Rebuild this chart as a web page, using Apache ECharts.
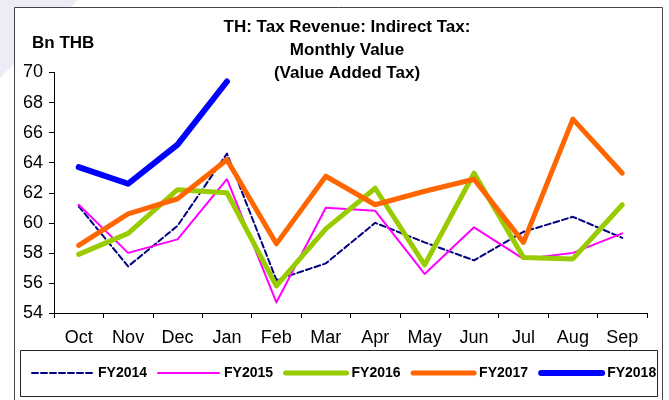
<!DOCTYPE html>
<html>
<head>
<meta charset="utf-8">
<script src="https://cdn.jsdelivr.net/npm/echarts@6/dist/echarts.min.js"></script>
<style>
  html, body { margin: 0; padding: 0; background: #fff; }
  #chart { width: 669px; height: 400px; }
</style>
</head>
<body>
<div id="chart"></div>
<script>
  // months of the fiscal year
  var months = ['Oct', 'Nov', 'Dec', 'Jan', 'Feb', 'Mar', 'Apr', 'May', 'Jun', 'Jul', 'Aug', 'Sep'];

  // VAT, Bn THB
  var fy2014 = [61.1, 57.1, 59.8, 64.6, 56.2, 57.3, 60.0, 58.7, 57.5, 59.4, 60.4, 59.0];
  var fy2015 = [61.2, 58.0, 58.9, 62.9, 54.7, 61.0, 60.8, 56.6, 59.7, 57.6, 58.0, 59.3];
  var fy2016 = [57.9, 59.3, 62.2, 62.0, 55.8, 59.6, 62.3, 57.2, 63.3, 57.7, 57.6, 61.2];
  var fy2017 = [58.5, 60.6, 61.6, 64.2, 58.6, 63.1, 61.2, 62.1, 62.9, 58.7, 66.9, 63.3];
  var fy2018 = [63.7, 62.6, 65.2, 69.4];

  var yTicks = [54, 56, 58, 60, 62, 64, 66, 68, 70];

  var chart = echarts.init(document.getElementById('chart'), null, { renderer: 'canvas' });

  var styles = {
    FY2014: { color: '#000080', width: 2, type: [6, 3] },
    FY2015: { color: '#ff00ff', width: 2, type: 'solid' },
    FY2016: { color: '#99cc00', width: 5, type: 'solid' },
    FY2017: { color: '#ff6600', width: 5, type: 'solid' },
    FY2018: { color: '#0000ff', width: 6, type: 'solid' }
  };

  function line(name, data) {
    var s = styles[name];
    return {
      name: name,
      type: 'line',
      data: data,
      symbol: 'none',
      showSymbol: false,
      lineStyle: { color: s.color, width: s.width, type: s.type, cap: 'round', join: 'round' },
      itemStyle: { color: s.color },
      emphasis: { disabled: true }
    };
  }

  function legendItem(name) {
    var s = styles[name];
    return {
      name: name,
      itemStyle: { opacity: 0 },
      lineStyle: { color: s.color, width: s.width, type: s.type, cap: 'round' }
    };
  }

  chart.setOption({
    animation: false,
    backgroundColor: '#fff',
    title: {
      text: 'TH: Tax Revenue: Indirect Tax:\nMonthly Value\n(Value Added Tax)',
      left: 342,
      top: 11,
      textAlign: 'center',
      textStyle: { fontFamily: 'Arial, Liberation Sans', fontSize: 17, fontWeight: 'bold', color: '#000', lineHeight: 23 }
    },
    graphic: [
      { type: 'polygon', z: -10, shape: { points: [[0, 0], [78, 0], [0, 78]] }, style: { fill: '#ececf6' } },
      { type: 'rect', z: -5, shape: { x: 14.5, y: 7.5, width: 648, height: 400 }, style: { fill: '#fff', stroke: '#444', lineWidth: 1 } },
      { type: 'rect', z: -4, shape: { x: 20.5, y: 350.5, width: 637, height: 46 }, style: { fill: 'none', stroke: '#222', lineWidth: 1 } },
      { type: 'text', x: 32, y: 43, style: { text: 'Bn THB', fontFamily: 'Arial, Liberation Sans', fontSize: 17, fontWeight: 'bold', fill: '#000', verticalAlign: 'middle' } }
    ],
    legend: {
      left: 31,
      top: 366,
      padding: 0,
      itemWidth: 61,
      itemHeight: 14,
      itemGap: 10,
      textStyle: { fontFamily: 'Arial, Liberation Sans', fontSize: 14, fontWeight: 'bold', color: '#000' },
      data: ['FY2014', 'FY2015', 'FY2016', 'FY2017', 'FY2018'].map(legendItem)
    },
    grid: { left: 54, right: 22, top: 72.5, bottom: 87, containLabel: false },
    xAxis: {
      type: 'category',
      data: months,
      boundaryGap: true,
      axisLine: { lineStyle: { color: '#000', width: 1 } },
      axisTick: { show: true, length: 5, inside: false, alignWithLabel: false, lineStyle: { color: '#000' } },
      axisLabel: { margin: 16, fontFamily: 'Arial, Liberation Sans', fontSize: 18, color: '#000', interval: 0 },
      splitLine: { show: false }
    },
    yAxis: {
      type: 'value',
      min: yTicks[0],
      max: yTicks[yTicks.length - 1],
      interval: 2,
      axisLine: { show: true, lineStyle: { color: '#000', width: 1 } },
      axisTick: { show: true, length: 5, lineStyle: { color: '#000' } },
      axisLabel: { margin: 11, fontFamily: 'Arial, Liberation Sans', fontSize: 18, color: '#000' },
      splitLine: { show: false }
    },
    series: [
      line('FY2014', fy2014),
      line('FY2015', fy2015),
      line('FY2016', fy2016),
      line('FY2017', fy2017),
      line('FY2018', fy2018)
    ]
  });
</script>
</body>
</html>
